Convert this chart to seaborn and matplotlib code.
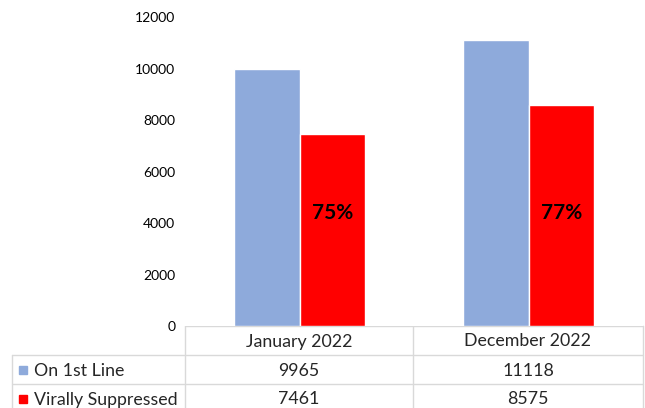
import matplotlib
matplotlib.use('Agg')
import matplotlib.pyplot as plt
from matplotlib.patches import Rectangle
import seaborn as sns
import pandas as pd

categories = ['January 2022', 'December 2022']
series = ['On 1st Line', 'Virally Suppressed']
on_first_line = [9965, 11118]
virally_suppressed = [7461, 8575]
pct_labels = ['75%', '77%']
yticks = [0, 2000, 4000, 6000, 8000, 10000, 12000]
colors = ['#8EAADB', '#FF0000']

df = pd.DataFrame({
    'category': categories * 2,
    'series': [series[0]] * 2 + [series[1]] * 2,
    'value': on_first_line + virally_suppressed,
})

sns.set_style('white')
plt.rcParams['font.family'] = ['Lato', 'DejaVu Sans']

W, H = 645, 408
fig = plt.figure(figsize=(W / 100, H / 100), dpi=100)

# chart area (pixel layout of the reference)
x0, x1, ybase, ytop = 185, 643, 326, 17
ax = fig.add_axes([x0 / W, (H - ybase) / H, (x1 - x0) / W, (ybase - ytop) / H])
sns.barplot(data=df, x='category', y='value', hue='series', order=categories,
            hue_order=series, palette=colors, width=0.57, saturation=1,
            legend=False, ax=ax)
ax.set_ylim(0, 12000)
ax.set_xlim(-0.5, 1.5)
ax.set_yticks(yticks)
ax.set_yticklabels([str(t) for t in yticks], fontsize=10, color='#000000')
ax.tick_params(axis='y', length=0, pad=7)
ax.set_xticks([])
ax.set_xlabel('')
ax.set_ylabel('')
for s in ax.spines.values():
    s.set_visible(False)

# percentage labels inside the red bars
red_bars = ax.containers[1]
for bar, lab in zip(red_bars, pct_labels):
    ax.text(bar.get_x() + bar.get_width() / 2, 4400, lab, ha='center', va='center',
            fontsize=15, fontweight='bold', color='black')

# data table below the chart
tax = fig.add_axes([0, 0, 1, 1], zorder=-1)
tax.set_xlim(0, W)
tax.set_ylim(H, 0)
tax.axis('off')
lc = '#D9D9D9'
rows = [ybase, 355, 384, 413]
cols = [12, x0, 413, x1]
tax.plot([x0, x1], [rows[0], rows[0]], color=lc, lw=1)
for y in rows[1:3]:
    tax.plot([cols[0], x1], [y, y], color=lc, lw=1)
tax.plot([x0, x0], [rows[0], H], color=lc, lw=1)
tax.plot([cols[0], cols[0]], [rows[1], H], color=lc, lw=1)
for x in cols[2:]:
    tax.plot([x, x], [rows[0], H], color=lc, lw=1)

fs = 12.8
for i, cat in enumerate(categories):
    cx = (cols[i + 1] + cols[i + 2]) / 2
    tax.text(cx, (rows[0] + rows[1]) / 2 + 1, cat, ha='center', va='center', fontsize=fs)
    for r, vals in enumerate([on_first_line, virally_suppressed]):
        tax.text(cx, (rows[r + 1] + rows[r + 2]) / 2 + 1, str(vals[i]), ha='center',
                 va='center', fontsize=fs)

for r, (name, c) in enumerate(zip(series, colors)):
    yc = (rows[r + 1] + rows[r + 2]) / 2
    tax.add_patch(Rectangle((19, yc - 4), 8, 8, color=c))
    tax.text(34, yc + 1, name, ha='left', va='center', fontsize=fs)

fig.savefig('out.png', dpi=100)
